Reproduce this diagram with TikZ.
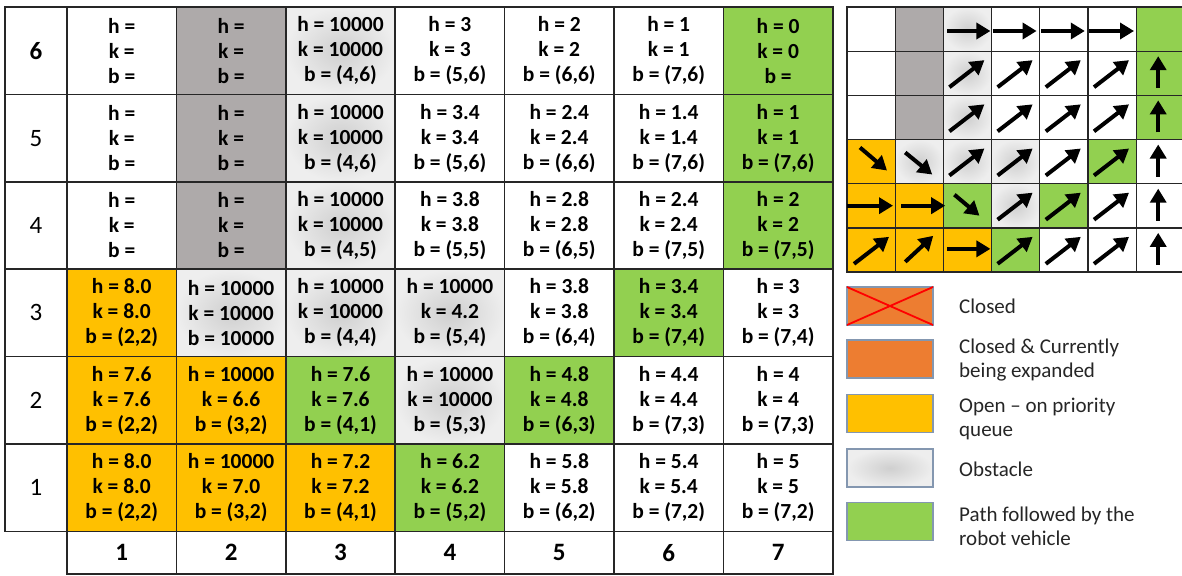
\documentclass[tikz,border=0pt]{standalone}
\usepackage{fontspec}
\setmainfont{Carlito}
\usetikzlibrary{arrows.meta}
\definecolor{openc}{HTML}{FFC000}
\definecolor{pathc}{HTML}{92D050}
\definecolor{wallc}{HTML}{AEAAAA}
\definecolor{closedc}{HTML}{ED7D31}
\definecolor{legline}{HTML}{8497B0}
\definecolor{obsin}{HTML}{CFCFCF}
\definecolor{obsout}{HTML}{EEEEEE}
\definecolor{gridc}{HTML}{262626}
\tikzset{
  gcell/.style={draw=gridc, line width=1.6pt, minimum width=109.4pt, minimum height=87.4pt,
    inner sep=0pt, outer sep=0pt, align=center, font=\fontsize{21.5}{25}\selectfont\bfseries},
  lcell/.style={draw=gridc, line width=1.6pt, minimum width=62pt, minimum height=87.4pt,
    inner sep=0pt, outer sep=0pt, font=\fontsize{25}{28}\selectfont},
  bcell/.style={draw=gridc, line width=1.6pt, minimum width=109.4pt, minimum height=42.6pt,
    inner sep=0pt, outer sep=0pt, font=\fontsize{25}{28}\selectfont\bfseries},
  mcell/.style={draw=gridc, line width=1.3pt, minimum width=48.2pt, minimum height=44.17pt,
    inner sep=0pt, outer sep=0pt},
  isopen/.style={fill=openc},
  ispath/.style={fill=pathc},
  iswall/.style={fill=wallc},
  isobst/.style={inner color=obsin, outer color=obsout},
  marr/.style={line width=4pt, -{Triangle[length=14pt,width=16pt]}},
  legbox/.style={draw=legline, line width=1.2pt, minimum width=86pt, minimum height=38pt,
    inner sep=0pt, outer sep=0pt},
  legtext/.style={anchor=west, inner sep=0pt, align=left, text=black!85,
    font=\fontsize{21}{24}\selectfont}
}
\newcommand\gcell[4]{\node[gcell,#3] (g#1#2) at ({67+(#1-0.5)*109.4},{7+(6.5-#2)*87.4}) {#4};}
\newcommand\mcell[3]{\node[mcell,#3] (m#1#2) at ({847+(#1-0.5)*48.2},{7+(6.5-#2)*44.17}) {};}
\newcommand\Arr[5]{\draw[marr] ([shift={(#2,#3)}]#1.north west) -- ([shift={(#4,#5)}]#1.north west);}
\begin{document}
\begin{tikzpicture}[x=1pt,y=-1pt]
\useasboundingbox (0,0) rectangle (1182,575);
\fill[white] (0,0) rectangle (1182,575);
% row labels
\node[lcell] (r6) at (36,{7+0.5*87.4}) {\bfseries 6};
\node[lcell] (r5) at (36,{7+1.5*87.4}) {5};
\node[lcell] (r4) at (36,{7+2.5*87.4}) {4};
\node[lcell] (r3) at (36,{7+3.5*87.4}) {3};
\node[lcell] (r2) at (36,{7+4.5*87.4}) {2};
\node[lcell] (r1) at (36,{7+5.5*87.4}) {1};
% column labels
\foreach \c in {1,...,7}{
  \node[bcell] (x\c) at ({67+(\c-0.5)*109.4},552.7) {\c};
}
% row 6
\gcell{1}{6}{}{h =\\k =\\b =}
\gcell{2}{6}{iswall}{h =\\k =\\b =}
\gcell{3}{6}{isobst}{h = 10000\\k = 10000\\b = (4,6)}
\gcell{4}{6}{}{h = 3\\k = 3\\b = (5,6)}
\gcell{5}{6}{}{h = 2\\k = 2\\b = (6,6)}
\gcell{6}{6}{}{h = 1\\k = 1\\b = (7,6)}
\gcell{7}{6}{ispath}{h = 0\\k = 0\\b =}
% row 5
\gcell{1}{5}{}{h =\\k =\\b =}
\gcell{2}{5}{iswall}{h =\\k =\\b =}
\gcell{3}{5}{isobst}{h = 10000\\k = 10000\\b = (4,6)}
\gcell{4}{5}{}{h = 3.4\\k = 3.4\\b = (5,6)}
\gcell{5}{5}{}{h = 2.4\\k = 2.4\\b = (6,6)}
\gcell{6}{5}{}{h = 1.4\\k = 1.4\\b = (7,6)}
\gcell{7}{5}{ispath}{h = 1\\k = 1\\b = (7,6)}
% row 4
\gcell{1}{4}{}{h =\\k =\\b =}
\gcell{2}{4}{iswall}{h =\\k =\\b =}
\gcell{3}{4}{isobst}{h = 10000\\k = 10000\\b = (4,5)}
\gcell{4}{4}{}{h = 3.8\\k = 3.8\\b = (5,5)}
\gcell{5}{4}{}{h = 2.8\\k = 2.8\\b = (6,5)}
\gcell{6}{4}{}{h = 2.4\\k = 2.4\\b = (7,5)}
\gcell{7}{4}{ispath}{h = 2\\k = 2\\b = (7,5)}
% row 3
\gcell{1}{3}{isopen}{h = 8.0\\k = 8.0\\b = (2,2)}
\gcell{2}{3}{isobst}{h = 10000\\k = 10000\\b = 10000}
\gcell{3}{3}{isobst}{h = 10000\\k = 10000\\b = (4,4)}
\gcell{4}{3}{isobst}{h = 10000\\k = 4.2\\b = (5,4)}
\gcell{5}{3}{}{h = 3.8\\k = 3.8\\b = (6,4)}
\gcell{6}{3}{ispath}{h = 3.4\\k = 3.4\\b = (7,4)}
\gcell{7}{3}{}{h = 3\\k = 3\\b = (7,4)}
% row 2
\gcell{1}{2}{isopen}{h = 7.6\\k = 7.6\\b = (2,2)}
\gcell{2}{2}{isopen}{h = 10000\\k = 6.6\\b = (3,2)}
\gcell{3}{2}{ispath}{h = 7.6\\k = 7.6\\b = (4,1)}
\gcell{4}{2}{isobst}{h = 10000\\k = 10000\\b = (5,3)}
\gcell{5}{2}{ispath}{h = 4.8\\k = 4.8\\b = (6,3)}
\gcell{6}{2}{}{h = 4.4\\k = 4.4\\b = (7,3)}
\gcell{7}{2}{}{h = 4\\k = 4\\b = (7,3)}
% row 1
\gcell{1}{1}{isopen}{h = 8.0\\k = 8.0\\b = (2,2)}
\gcell{2}{1}{isopen}{h = 10000\\k = 7.0\\b = (3,2)}
\gcell{3}{1}{isopen}{h = 7.2\\k = 7.2\\b = (4,1)}
\gcell{4}{1}{ispath}{h = 6.2\\k = 6.2\\b = (5,2)}
\gcell{5}{1}{}{h = 5.8\\k = 5.8\\b = (6,2)}
\gcell{6}{1}{}{h = 5.4\\k = 5.4\\b = (7,2)}
\gcell{7}{1}{}{h = 5\\k = 5\\b = (7,2)}
% mini grid
\mcell{1}{6}{} \mcell{2}{6}{iswall} \mcell{3}{6}{isobst} \mcell{4}{6}{} \mcell{5}{6}{} \mcell{6}{6}{} \mcell{7}{6}{ispath}
\mcell{1}{5}{} \mcell{2}{5}{iswall} \mcell{3}{5}{isobst} \mcell{4}{5}{} \mcell{5}{5}{} \mcell{6}{5}{} \mcell{7}{5}{ispath}
\mcell{1}{4}{} \mcell{2}{4}{iswall} \mcell{3}{4}{isobst} \mcell{4}{4}{} \mcell{5}{4}{} \mcell{6}{4}{} \mcell{7}{4}{ispath}
\mcell{1}{3}{isopen} \mcell{2}{3}{isobst} \mcell{3}{3}{isobst} \mcell{4}{3}{isobst} \mcell{5}{3}{} \mcell{6}{3}{ispath} \mcell{7}{3}{}
\mcell{1}{2}{isopen} \mcell{2}{2}{isopen} \mcell{3}{2}{ispath} \mcell{4}{2}{isobst} \mcell{5}{2}{ispath} \mcell{6}{2}{} \mcell{7}{2}{}
\mcell{1}{1}{isopen} \mcell{2}{1}{isopen} \mcell{3}{1}{isopen} \mcell{4}{1}{ispath} \mcell{5}{1}{} \mcell{6}{1}{} \mcell{7}{1}{}
% arrows row 6
\Arr{m36}{4}{24}{47}{24}
\Arr{m46}{1}{24}{45}{24}
\Arr{m56}{1}{24}{45}{24}
\Arr{m66}{1}{24}{46}{24}
% arrows rows 5 and 4
\foreach \c in {3,4,5,6}{
  \Arr{m\c5}{6}{36}{41}{9}
  \Arr{m\c4}{6}{36}{41}{9}
}
% row 3
\Arr{m13}{13}{8}{40}{31}
\Arr{m23}{10}{13}{37}{35}
\Arr{m33}{6}{36}{41}{9}
\Arr{m43}{6}{36}{41}{9}
\Arr{m53}{6}{36}{41}{9}
\Arr{m63}{6}{36}{41}{9}
% row 2
\Arr{m12}{0}{22}{46}{22}
\Arr{m22}{6}{22}{50}{22}
\Arr{m32}{11}{11}{36}{32}
\Arr{m42}{6}{36}{41}{9}
\Arr{m52}{6}{36}{41}{9}
\Arr{m62}{6}{36}{41}{9}
% row 1
\Arr{m11}{7}{36}{42}{9}
\Arr{m21}{10}{34}{38}{8}
\Arr{m31}{4}{21}{47}{21}
\Arr{m41}{6}{36}{41}{9}
\Arr{m51}{6}{36}{41}{9}
\Arr{m61}{6}{36}{41}{9}
% up arrows column 7
\foreach \r in {5,4,3,2,1}{
  \Arr{m7\r}{22}{37}{22}{5}
}
% legend
\node[legbox, fill=closedc] (l1) at (890,306) {};
\draw[red, line width=1.8pt] (l1.north west) -- (l1.south east) (l1.south west) -- (l1.north east);
\node[legbox, fill=closedc] (l2) at (890,359) {};
\node[legbox, fill=openc] (l3) at (890,413.5) {};
\node[legbox, isobst] (l4) at (890,468) {};
\node[legbox, fill=pathc] (l5) at (890,521.5) {};
\node[legtext] (t1) at (959,306) {Closed};
\node[legtext] (t2) at (959,360) {Closed \& Currently\\being expanded};
\node[legtext] (t3) at (959,419) {Open -- on priority\\queue};
\node[legtext] (t4) at (959,469) {Obstacle};
\node[legtext] (t5) at (959,526) {Path followed by the\\robot vehicle};
\end{tikzpicture}
\end{document}
